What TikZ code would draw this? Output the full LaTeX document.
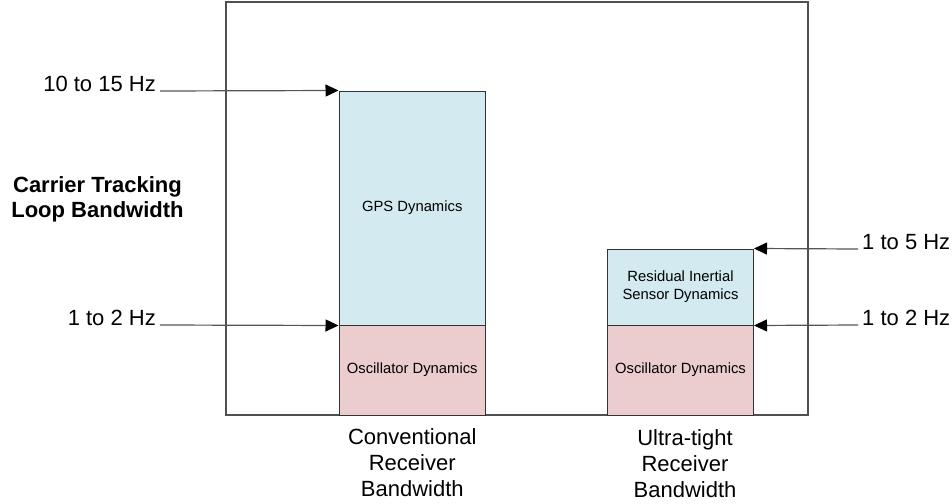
\documentclass[tikz,border=0pt]{standalone}
\usepackage{fontspec}
\setmainfont{Liberation Sans}
\usetikzlibrary{arrows.meta}
\definecolor{gpsblue}{RGB}{210,234,240}
\definecolor{oscpink}{RGB}{236,205,205}
\definecolor{framegray}{RGB}{80,80,80}
\definecolor{wiregray}{RGB}{85,85,85}
\tikzset{
  framebox/.style={draw=framegray, line width=1.3pt},
  bandbox/.style={draw=black!80, line width=1pt, inner sep=0pt, align=center,
    font=\fontsize{14.8}{18}\selectfont},
  hzlabel/.style={inner xsep=4pt, inner ysep=0pt, font=\fontsize{22}{26.5}\selectfont},
  pointer/.style={draw=wiregray, line width=1.2pt,
    -{Triangle[length=13pt,width=12pt,color=black]}},
  caption/.style={inner sep=0pt, align=center, font=\fontsize{22}{26}\selectfont},
}
\begin{document}
\begin{tikzpicture}[x=1pt,y=-1pt]
\useasboundingbox (0,0) rectangle (952,503);

% outer frame
\node[framebox, inner sep=0pt, minimum width=582pt, minimum height=413pt] (frame) at (517,208.5) {};

% conventional receiver bar
\node[bandbox, fill=gpsblue, minimum width=146.5pt, minimum height=234pt] (gps) at (412.25,208) {GPS Dynamics};
\node[bandbox, fill=oscpink, minimum width=146.5pt, minimum height=90pt] (osc1) at (412.25,370) {Oscillator Dynamics};

% ultra-tight receiver bar
\node[bandbox, fill=gpsblue, minimum width=146pt, minimum height=76pt] (ris) at (680.5,287) {Residual Inertial\\Sensor Dynamics};
\node[bandbox, fill=oscpink, minimum width=146pt, minimum height=90pt] (osc2) at (680.5,370) {Oscillator Dynamics};

% bandwidth labels
\node[hzlabel, anchor=base east] (l10) at (160,91) {10 to 15 Hz};
\node[hzlabel, anchor=base east] (l12) at (160,325) {1 to 2 Hz};
\node[hzlabel, anchor=base west] (r15) at (858,249) {1 to 5 Hz};
\node[hzlabel, anchor=base west] (r12) at (858,325) {1 to 2 Hz};

\draw[pointer] (l10.base east) -- (gps.north west);
\draw[pointer] (l12.base east) -- (gps.south west);
\draw[pointer] (r15.base west) -- (ris.north east);
\draw[pointer] (r12.base west) -- (ris.south east);

% axis title and captions (base anchor sits on the last line)
\node[caption, font=\bfseries\fontsize{22}{25}\selectfont, anchor=base] (title) at (97.5,217) {Carrier Tracking\\Loop Bandwidth};
\node[caption, anchor=base] (conv) at (412.25,496) {Conventional\\Receiver\\Bandwidth};
\node[caption, anchor=base] (ultra) at (685,497) {Ultra-tight\\Receiver\\Bandwidth};
\end{tikzpicture}
\end{document}
